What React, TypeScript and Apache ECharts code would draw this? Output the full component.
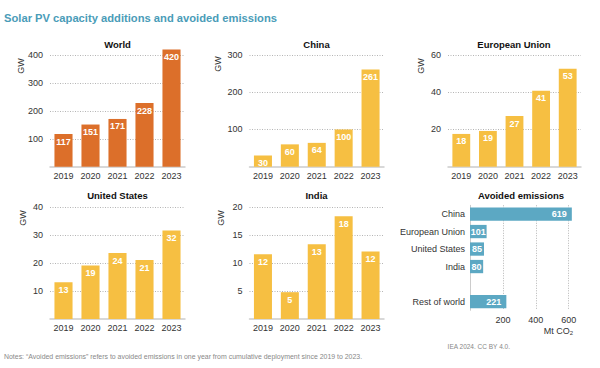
import React, { useEffect, useRef } from "react";
import * as echarts from "echarts";

const years = ["2019", "2020", "2021", "2022", "2023"];
const worldGW = [117, 151, 171, 228, 420];
const chinaGW = [30, 60, 64, 100, 261];
const euGW = [17.6, 19.2, 27.2, 40.8, 52.6];
const usGW = [13.2, 19.2, 23.6, 21.1, 31.7];
const indiaGW = [11.6, 4.8, 13.4, 18.4, 12.1];

const emissionRegions = ["China", "European Union", "United States", "India", "", "Rest of world"];
const avoidedMt = [619, 101, 85, 80, null, 221];

const panelTitles = ["World", "China", "European Union", "United States", "India", "Avoided emissions"];

const FONT = "'Liberation Sans', Arial, Helvetica, sans-serif";
const ORANGE = "#DC6F2A";
const YELLOW = "#F6BF42";
const TEAL = "#5CA8C3";
const TEXT = "#333333";
const GRIDC = "#b5b5b5";
const AXISC = "#cccccc";

export default function App() {
  const ref = useRef<HTMLDivElement>(null);
  useEffect(() => {
    if (!ref.current) return;
    const chart = echarts.init(ref.current, null, { renderer: "svg" });

    const panels = [
      { data: worldGW, max: 400, interval: 100, color: ORANGE, left: 50, top: 55, width: 135 },
      { data: chinaGW, max: 300, interval: 100, color: YELLOW, left: 249.5, top: 55, width: 134.5 },
      { data: euGW, max: 60, interval: 20, color: YELLOW, left: 448, top: 55, width: 133 },
      { data: usGW, max: 40, interval: 10, color: YELLOW, left: 50, top: 207.3, width: 135 },
      { data: indiaGW, max: 20, interval: 5, color: YELLOW, left: 249.5, top: 207.3, width: 134.5 },
    ];
    const H = 111.7;

    const grid: any[] = panels.map((p) => ({
      left: p.left,
      top: p.top,
      width: p.width,
      height: H,
      containLabel: false,
      outerBoundsMode: "none",
    }));
    grid.push({ left: 470, top: 205.3, width: 98.7, height: 105, containLabel: false, outerBoundsMode: "none" });

    const xAxis: any[] = panels.map((p, i) => ({
      type: "category",
      gridIndex: i,
      data: years,
      axisLine: { show: true, lineStyle: { color: AXISC, width: 1.5 } },
      axisTick: { show: false },
      axisLabel: { color: TEXT, fontSize: 9, fontFamily: FONT, margin: 4.5, interval: 0 },
    }));
    xAxis.push({
      type: "value",
      gridIndex: 5,
      min: 0,
      max: 600,
      interval: 200,
      axisLine: { show: false },
      axisTick: { show: false },
      axisLabel: { color: TEXT, fontSize: 9, fontFamily: FONT, margin: 5, showMinLabel: false },
      splitLine: { show: true, showMinLine: false, lineStyle: { color: GRIDC, type: [1, 1.5], width: 1 } },
    });

    const yAxis: any[] = panels.map((p, i) => ({
      type: "value",
      gridIndex: i,
      min: 0,
      max: p.max,
      interval: p.interval,
      axisLine: { show: false },
      axisTick: { show: false },
      axisLabel: { color: TEXT, fontSize: 9, fontFamily: FONT, margin: 7, showMinLabel: false },
      splitLine: { show: true, showMinLine: false, lineStyle: { color: GRIDC, type: [1, 1.5], width: 1 } },
    }));
    yAxis.push({
      type: "category",
      gridIndex: 5,
      inverse: true,
      data: emissionRegions,
      axisLine: { show: true, lineStyle: { color: AXISC, width: 1 } },
      axisTick: { show: false },
      axisLabel: { color: TEXT, fontSize: 9, fontFamily: FONT, margin: 5, interval: 0 },
    });

    const series: any[] = panels.map((p, i) => ({
      type: "bar",
      xAxisIndex: i,
      yAxisIndex: i,
      data: p.data,
      barCategoryGap: "33%",
      clip: false,
      itemStyle: { color: p.color },
      label: {
        show: true,
        position: "insideTop",
        distance: 3,
        color: "#ffffff",
        fontWeight: "bold",
        fontSize: 9,
        fontFamily: FONT,
        formatter: (d: any) => String(Math.round(d.value)),
      },
    }));
    series.push({
      type: "bar",
      xAxisIndex: 5,
      yAxisIndex: 5,
      barCategoryGap: "24%",
      clip: false,
      itemStyle: { color: TEAL },
      data: avoidedMt.map((v) =>
        v == null
          ? null
          : {
              value: v,
              label: { position: v > 150 ? "insideRight" : "inside" },
            }
      ),
      label: {
        show: true,
        distance: 5,
        color: "#ffffff",
        fontWeight: "bold",
        fontSize: 9,
        fontFamily: FONT,
      },
    });

    const titlePos = [
      [117.5, 44],
      [316.5, 44],
      [514, 44],
      [117.5, 195.7],
      [316.5, 195.7],
      [521, 195.7],
    ];
    const gwPos = [
      [21, 66],
      [218, 64],
      [421, 66],
      [22.5, 218],
      [221, 218],
    ];

    const graphic: any[] = [
      {
        type: "text",
        x: 4,
        y: 17.5,
        style: {
          text: "Solar PV capacity additions and avoided emissions",
          font: `bold 11.2px ${FONT}`,
          fill: "#4A9CB8",
          textAlign: "left",
          textVerticalAlign: "middle",
          align: "left",
          verticalAlign: "middle",
        },
      },
      ...panelTitles.map((t, i) => ({
        type: "text",
        x: titlePos[i][0],
        y: titlePos[i][1],
        style: {
          text: t,
          font: `bold 9.5px ${FONT}`,
          fill: "#111111",
          textAlign: "center",
          textVerticalAlign: "middle",
          align: "center",
          verticalAlign: "middle",
        },
      })),
      ...gwPos.map((p) => ({
        type: "text",
        x: p[0],
        y: p[1],
        rotation: Math.PI / 2,
        style: {
          text: "GW",
          font: `9px ${FONT}`,
          fill: TEXT,
          textAlign: "center",
          textVerticalAlign: "middle",
          align: "center",
          verticalAlign: "middle",
        },
      })),
      {
        type: "text",
        x: 573,
        y: 331,
        style: {
          text: "{a|Mt CO}{b|2}",
          rich: {
            a: { fontSize: 9, fontFamily: FONT, fill: TEXT, color: TEXT },
            b: { fontSize: 6, fontFamily: FONT, fill: TEXT, color: TEXT, verticalAlign: "bottom", padding: [4, 0, 0, 0] },
          },
          textAlign: "right",
          textVerticalAlign: "middle",
          align: "right",
          verticalAlign: "middle",
        },
      },
      {
        type: "text",
        x: 510,
        y: 346,
        style: {
          text: "IEA 2024. CC BY 4.0.",
          font: `6.5px ${FONT}`,
          fill: "#888888",
          textAlign: "right",
          textVerticalAlign: "middle",
          align: "right",
          verticalAlign: "middle",
        },
      },
      {
        type: "text",
        x: 4,
        y: 356.5,
        style: {
          text: "Notes: \u201cAvoided emissions\u201d refers to avoided emissions in one year from cumulative deployment since 2019 to 2023.",
          font: `6.95px ${FONT}`,
          fill: "#888888",
          textAlign: "left",
          textVerticalAlign: "middle",
          align: "left",
          verticalAlign: "middle",
        },
      },
    ];

    chart.setOption({
      animation: false,
      backgroundColor: "#ffffff",
      textStyle: { fontFamily: FONT },
      grid,
      xAxis,
      yAxis,
      series,
      graphic,
    });
    return () => chart.dispose();
  }, []);

  return (
    <div
      ref={ref}
      style={{ position: "fixed", left: 0, top: 0, width: 600, height: 368, background: "#fff" }}
    />
  );
}
